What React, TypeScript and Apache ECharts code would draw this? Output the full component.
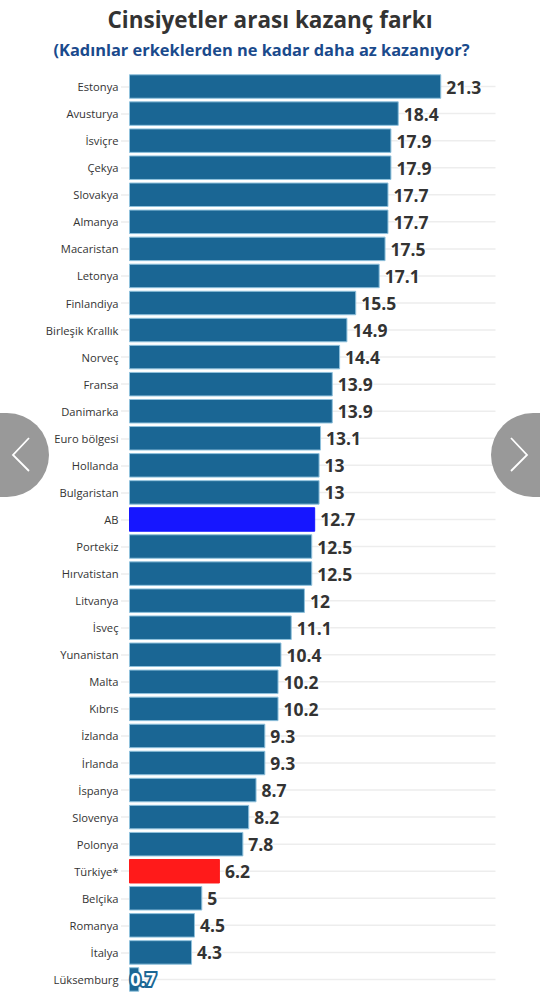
import React, { useEffect, useRef } from "react";
import * as echarts from "echarts";

const categories = ["Estonya","Avusturya","İsviçre","Çekya","Slovakya","Almanya","Macaristan","Letonya","Finlandiya","Birleşik Krallık","Norveç","Fransa","Danimarka","Euro bölgesi","Hollanda","Bulgaristan","AB","Portekiz","Hırvatistan","Litvanya","İsveç","Yunanistan","Malta","Kıbrıs","İzlanda","İrlanda","İspanya","Slovenya","Polonya","Türkiye*","Belçika","Romanya","İtalya","Lüksemburg"];
const values = [21.3,18.4,17.9,17.9,17.7,17.7,17.5,17.1,15.5,14.9,14.4,13.9,13.9,13.1,13,13,12.7,12.5,12.5,12,11.1,10.4,10.2,10.2,9.3,9.3,8.7,8.2,7.8,6.2,5,4.5,4.3,0.7];
const axisMax = 25;
const highlight: Record<string, string> = { AB: "#1616ff", "Türkiye*": "#ff1a1a" };
const FONT = "'Open Sans', sans-serif";

export default function App() {
  const ref = useRef<HTMLDivElement>(null);
  useEffect(() => {
    document.body.style.margin = "0";
    const chart = echarts.init(ref.current!, undefined, { renderer: "svg" });
    chart.setOption({
      animation: false,
      backgroundColor: "#ffffff",
      title: [
        { text: "Cinsiyetler arası kazanç farkı", left: 265, top: 3, textAlign: "center",
          textStyle: { fontFamily: FONT, fontSize: 22.5, fontWeight: 700, color: "#333333" } },
        { text: "(Kadınlar erkeklerden ne kadar daha az kazanıyor?", left: 256.5, top: 36.5, textAlign: "center",
          textStyle: { fontFamily: FONT, fontSize: 16.4, fontWeight: 700, color: "#1a4a8c" } },
      ],
      grid: { left: 129, top: 73, width: 366.5, height: 920, containLabel: false },
      xAxis: { type: "value", min: 0, max: axisMax, show: false },
      yAxis: [
        {
          type: "category", data: categories, inverse: true,
          axisLine: { show: false },
          axisTick: { show: true, alignWithLabel: true, length: 8, lineStyle: { color: "#ededed", width: 1.5 } },
          axisLabel: { fontFamily: FONT, fontSize: 11.2, color: "#333333", margin: 10.5 },
          splitLine: { show: false },
        },
        { type: "category", data: categories, inverse: true, show: false },
      ],
      series: [
        { // light rules behind each bar, on a hidden copy of the category axis
          type: "bar", yAxisIndex: 1, data: categories.map(() => axisMax), barWidth: 1.5,
          silent: true, itemStyle: { color: "#ededed" }, z: 1,
        },
        {
          type: "bar", yAxisIndex: 0, barWidth: 24.5, z: 2,
          data: categories.map((c, i) => ({
            value: values[i],
            itemStyle: {
              color: highlight[c] ?? "#1a6694",
              borderColor: highlight[c] ?? "#8fc1dc",
              borderWidth: 1,
            },
            label: c === "Lüksemburg"
              ? { color: "#ffffff", textBorderColor: "#1a6694", textBorderWidth: 4, distance: 0, offset: [-9, 0], fontSize: 18 }
              : undefined,
          })),
          label: {
            show: true, position: "right", distance: 5,
            fontFamily: FONT, fontSize: 17.5, fontWeight: 700, color: "#333333",
            textBorderColor: "#ffffff", textBorderWidth: 2,
          },
        },
      ],
      graphic: [
        { type: "rect", shape: { x: 0, y: 413, width: 49, height: 84, r: [0, 42, 42, 0] }, style: { fill: "#999999" }, z: 10 },
        { type: "polyline", shape: { points: [[29, 438], [13, 455], [29, 471]] }, style: { stroke: "#ffffff", lineWidth: 1.8, fill: "none" }, z: 11 },
        { type: "rect", shape: { x: 491, y: 413, width: 49, height: 84, r: [42, 0, 0, 42] }, style: { fill: "#999999" }, z: 10 },
        { type: "polyline", shape: { points: [[511, 438], [527, 455], [511, 471]] }, style: { stroke: "#ffffff", lineWidth: 1.8, fill: "none" }, z: 11 },
      ],
    });
    return () => chart.dispose();
  }, []);
  return <div ref={ref} style={{ width: 540, height: 995 }} />;
}
